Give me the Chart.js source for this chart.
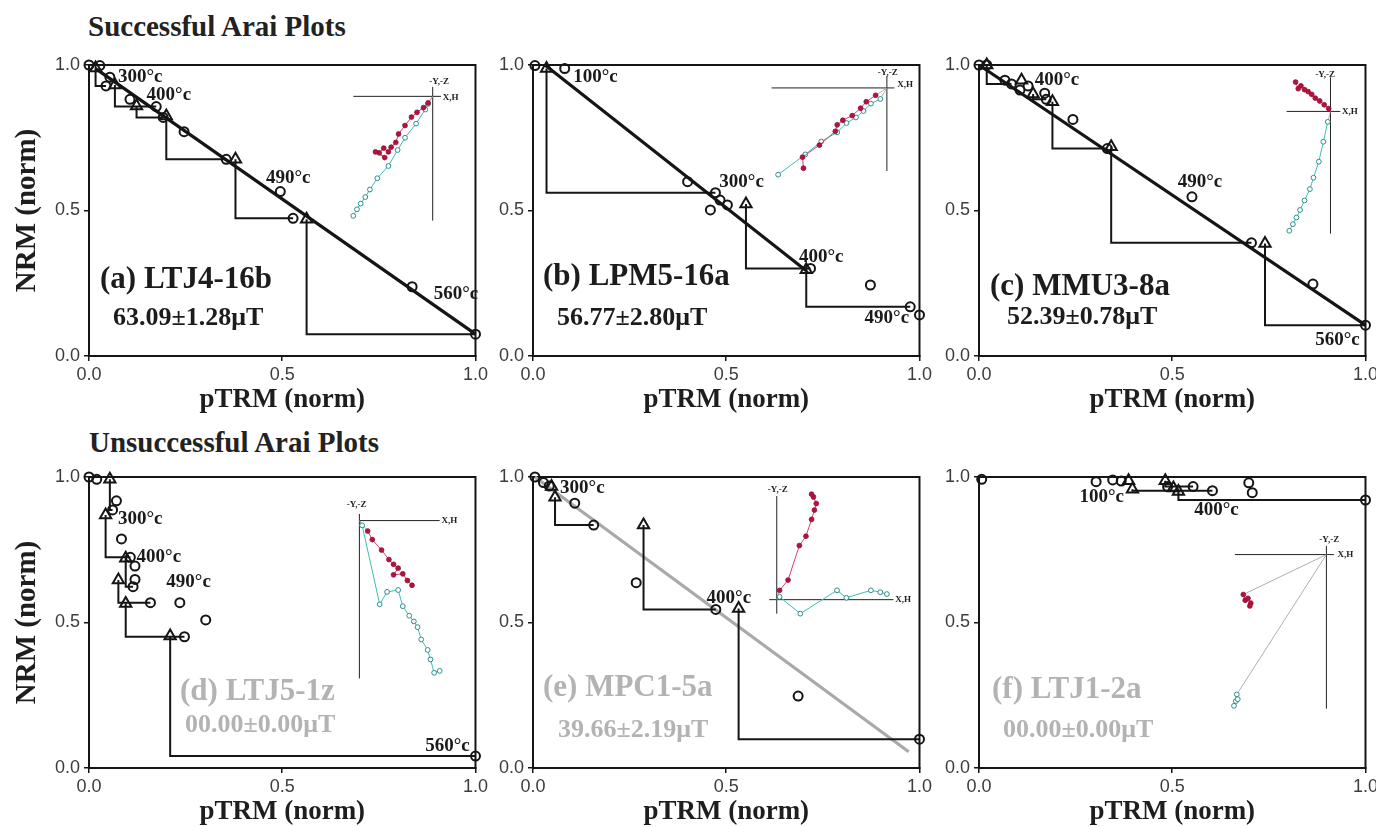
<!DOCTYPE html>
<html>
<head>
<meta charset="utf-8">
<script src="https://cdn.jsdelivr.net/npm/chart.js@4.4.1/dist/chart.umd.min.js"></script>
<style>
  html, body { margin: 0; background: #fff; width: 1376px; height: 827px; overflow: hidden; position: relative; }
  canvas { position: absolute; }
  .head { position: absolute; font: bold 29px "Liberation Serif", "Times New Roman", serif; line-height: 29px; color: #222; white-space: nowrap; }
</style>
</head>
<body>
<div class="head" style="left:88px; top:12px">Successful Arai Plots</div>
<div class="head" style="left:89px; top:428px">Unsuccessful Arai Plots</div>
<script>
// shared axis ticks (normalised units)
const tickVals = [0, 0.5, 1.0];

// (a) LTJ4-16b : NRM steps (circles) and pTRM checks (triangles)
const ptrmA = [0.0, 0.028, 0.044, 0.054, 0.106, 0.174, 0.192, 0.246, 0.355, 0.495, 0.528, 0.836, 1.0];
const nrmA = [1.0, 0.998, 0.928, 0.958, 0.882, 0.857, 0.820, 0.771, 0.676, 0.565, 0.473, 0.238, 0.075];
const chkPtrmA = [0.017, 0.067, 0.123, 0.200, 0.379, 0.563];
const chkNrmA = [0.990, 0.931, 0.859, 0.825, 0.676, 0.470];
const chkFromA = [2, 5, 6, 8, 10, 12];
const fitXA = [0.02, 1.0];
const fitYA = [0.985, 0.075];
const tempTextA = ["300°c", "400°c", "490°c", "560°c"];
const tempXA = [0.075, 0.149, 0.458, 0.892];
const tempYA = [0.958, 0.897, 0.611, 0.213];

// (b) LPM5-16a
const ptrmB = [0.005, 0.082, 0.400, 0.459, 0.472, 0.484, 0.503, 0.718, 0.873, 0.976, 1.0];
const nrmB = [0.998, 0.988, 0.599, 0.502, 0.561, 0.536, 0.519, 0.301, 0.244, 0.169, 0.141];
const chkPtrmB = [0.035, 0.551, 0.707];
const chkNrmB = [0.988, 0.522, 0.296];
const chkFromB = [4, 7, 9];
const fitXB = [0.031, 0.707];
const fitYB = [1.0, 0.293];
const tempTextB = ["100°c", "300°c", "400°c", "490°c"];
const tempXB = [0.104, 0.482, 0.688, 0.858];
const tempYB = [0.960, 0.599, 0.339, 0.130];

// (c) MMU3-8a
const ptrmC = [0.0, 0.02, 0.067, 0.084, 0.106, 0.127, 0.170, 0.174, 0.243, 0.332, 0.551, 0.705, 0.864, 1.0];
const nrmC = [1.0, 1.0, 0.948, 0.935, 0.914, 0.928, 0.903, 0.882, 0.813, 0.713, 0.547, 0.389, 0.247, 0.106];
const chkPtrmC = [0.020, 0.110, 0.140, 0.190, 0.342, 0.740];
const chkNrmC = [1.0, 0.948, 0.900, 0.874, 0.719, 0.387];
const chkFromC = [3, -1, 7, 9, 11, 13];
const fitXC = [0.0, 1.0];
const fitYC = [1.0, 0.106];
const tempTextC = ["400°c", "490°c", "560°c"];
const tempXC = [0.144, 0.514, 0.870];
const tempYC = [0.948, 0.596, 0.055];

// (d) LTJ5-1z
const ptrmD = [0.0, 0.02, 0.061, 0.071, 0.084, 0.107, 0.114, 0.119, 0.119, 0.159, 0.235, 0.247, 0.302, 1.0];
const nrmD = [1.0, 0.992, 0.887, 0.918, 0.787, 0.724, 0.623, 0.694, 0.648, 0.568, 0.568, 0.451, 0.509, 0.041];
const chkPtrmD = [0.054, 0.043, 0.095, 0.076, 0.095, 0.210];
const chkNrmD = [0.992, 0.869, 0.721, 0.646, 0.565, 0.454];
const chkFromD = [2, 5, 6, 9, 11, 13];
const tempTextD = ["300°c", "400°c", "490°c", "560°c"];
const tempXD = [0.075, 0.123, 0.200, 0.870];
const tempYD = [0.855, 0.726, 0.640, 0.076];

// (e) MPC1-5a
const ptrmE = [0.005, 0.027, 0.042, 0.108, 0.157, 0.267, 0.473, 0.686, 1.0];
const nrmE = [1.0, 0.981, 0.969, 0.910, 0.835, 0.637, 0.545, 0.247, 0.099];
const chkPtrmE = [0.048, 0.057, 0.286, 0.532];
const chkNrmE = [0.967, 0.930, 0.835, 0.548];
const chkFromE = [-1, 4, 6, 8];
const fitXE = [0.005, 0.972];
const fitYE = [1.0, 0.056];
const tempTextE = ["300°c", "400°c"];
const tempXE = [0.070, 0.449];
const tempYE = [0.961, 0.583];

// (f) LTJ1-2a
const ptrmF = [0.007, 0.303, 0.346, 0.368, 0.488, 0.554, 0.604, 0.698, 0.707, 1.0];
const nrmF = [0.992, 0.984, 0.990, 0.986, 0.967, 0.967, 0.953, 0.980, 0.946, 0.921];
const chkPtrmF = [0.387, 0.397, 0.482, 0.503, 0.516];
const chkNrmF = [0.987, 0.958, 0.987, 0.962, 0.950];
const chkFromF = [-1, 6, 5, -1, 9];
const tempTextF = ["100°c", "400°c"];
const tempXF = [0.260, 0.557];
const tempYF = [0.930, 0.887];

// Zijderveld insets: horizontal projection (red) and vertical projection (cyan)
const zRedA = [[-5, -7], [-10, -12], [-17, -17], [-23, -22], [-30, -31], [-37, -40], [-40, -49], [-45, -54], [-48, -59], [-53, -55], [-58, -60], [-52, -65], [-62, -59]];
const zCyanA = [[-5, -8], [-8, -14], [-18, -29], [-30, -44], [-38, -57], [-48, -74], [-60, -87], [-68, -99], [-73, -107], [-78, -114], [-82, -120], [-86, -127]];
const zRedB = [[-12, -8], [-22, -15], [-28, -22], [-37, -30], [-47, -35], [-53, -40], [-55, -47], [-72, -62], [-90, -75], [-89, -87]];
const zCyanB = [[-7, -12], [-17, -17], [-25, -25], [-33, -32], [-43, -38], [-53, -48], [-70, -58], [-87, -72], [-116, -94]];
const zRedC = [[-2, 3], [-7, 7], [-12, 11], [-17, 14], [-21, 18], [-25, 21], [-29, 23], [-33, 27], [-36, 24], [-39, 31]];
const zCyanC = [[-3, -11], [-8, -32], [-13, -53], [-19, -70], [-23, -82], [-29, -94], [-34, -104], [-38, -112], [-42, -119], [-46, -126]];
const zRedD = [[9, -11], [14, -20], [24, -31], [32, -41], [37, -46], [42, -50], [37, -57], [47, -56], [52, -63], [57, -68]];
const zCyanD = [[3, -5], [22, -88], [30, -75], [42, -73], [47, -90], [54, -100], [59, -106], [63, -112], [67, -125], [74, -136], [77, -146], [81, -160], [87, -158]];
const zRedE = [[3, 10], [12, 21], [24, 58], [31, 68], [37, 86], [40, 96], [42, 103], [39, 110], [37, 113]];
const zCyanE = [[3, 3], [25, -15], [64, 10], [74, 2], [100, 10], [110, 8], [117, 6]];
const zRedF = [[-89, -42], [-87, -48], [-84, -46], [-81, -51], [-82, -54]];
const zCyanF = [[-96, -147], [-97, -154], [-99, -159], [-95, -152]];

const ink = "#151515";
const serif = '"Liberation Serif", "Times New Roman", serif';

// full box around the plotting area
const framePlugin = {
  id: "frame",
  beforeDatasetsDraw(chart) {
    const { ctx, chartArea: a } = chart;
    ctx.save();
    ctx.strokeStyle = ink;
    ctx.lineWidth = 2;
    ctx.strokeRect(a.left, a.top, a.right - a.left, a.bottom - a.top);
    ctx.restore();
  }
};

// temperature steps, sample name and intensity
const textPlugin = {
  id: "araiText",
  afterDatasetsDraw(chart, args, opts) {
    const { ctx, chartArea: a, scales: { x, y } } = chart;
    ctx.save();
    ctx.textAlign = "left";
    ctx.textBaseline = "middle";
    ctx.fillStyle = "#1a1a1a";
    ctx.font = "bold 19px " + serif;
    opts.temps.forEach((t, i) => {
      ctx.fillText(t, x.getPixelForValue(opts.tempX[i]), y.getPixelForValue(opts.tempY[i]));
    });
    ctx.fillStyle = opts.nameColor;
    ctx.font = "bold 31px " + serif;
    ctx.fillText(opts.name, a.left + opts.nameAt[0], a.top + opts.nameAt[1]);
    ctx.font = "bold 26px " + serif;
    ctx.fillText(opts.value, a.left + opts.valueAt[0], a.top + opts.valueAt[1]);
    ctx.restore();
  }
};

function araiPanel(p) {
  const yw = p.yTitle ? 89 : 48;
  const padTop = 15, padRight = 14, xh = 64;
  const [l, t, r, b] = p.area;
  const cv = document.createElement("canvas");
  cv.width = yw + (r - l) + padRight;
  cv.height = padTop + (b - t) + xh;
  cv.style.left = (l - yw) + "px";
  cv.style.top = (t - padTop) + "px";
  document.body.appendChild(cv);

  const datasets = [];
  datasets.push({
    data: p.ptrm.map((v, i) => ({ x: v, y: p.nrm[i] })),
    pointStyle: "circle", pointRadius: 4.5, pointBorderWidth: 2,
    pointBorderColor: ink, pointBackgroundColor: "rgba(0,0,0,0)",
    clip: false, order: 0
  });
  datasets.push({
    data: p.chkPtrm.map((v, i) => ({ x: v, y: p.chkNrm[i] })),
    pointStyle: "triangle", pointRadius: 6.5, pointBorderWidth: 2,
    pointBorderColor: ink, pointBackgroundColor: "rgba(0,0,0,0)",
    clip: false, order: 1
  });
  // pTRM check paths: across from the NRM step, then up to the check
  p.chkFrom.forEach((k, i) => {
    if (k < 0) return;
    datasets.push({
      data: [
        { x: p.ptrm[k], y: p.nrm[k] },
        { x: p.chkPtrm[i], y: p.nrm[k] },
        { x: p.chkPtrm[i], y: p.chkNrm[i] }
      ],
      showLine: true, borderColor: ink, borderWidth: 2, pointRadius: 0,
      clip: false, order: 2
    });
  });
  if (p.fitX) {
    datasets.push({
      data: p.fitX.map((v, i) => ({ x: v, y: p.fitY[i] })),
      showLine: true, borderColor: p.fitColor, borderWidth: 3.2, pointRadius: 0,
      clip: false, order: 3
    });
  }

  const tickFont = { family: '"Liberation Sans", Arial, sans-serif', size: 18 };
  const fixTicks = s => { s.ticks = tickVals.map(v => ({ value: v })); };
  new Chart(cv, {
    type: "scatter",
    data: { datasets },
    options: {
      responsive: false,
      animation: false,
      events: [],
      layout: { padding: { top: padTop, right: padRight, left: 0, bottom: 0 } },
      elements: { line: { tension: 0 } },
      plugins: {
        legend: { display: false },
        tooltip: { enabled: false },
        araiText: {
          temps: p.temps, tempX: p.tempX, tempY: p.tempY,
          name: p.name, value: p.value, nameAt: p.nameAt, valueAt: p.valueAt,
          nameColor: p.faded ? "#b3b3b3" : "#1c1c1c"
        }
      },
      scales: {
        x: {
          type: "linear", min: 0, max: 1,
          afterBuildTicks: fixTicks,
          afterFit: s => { s.height = xh; },
          ticks: { font: tickFont, color: "#3c3c3c", padding: 3, maxRotation: 0, autoSkip: false, callback: v => v.toFixed(1) },
          grid: { drawOnChartArea: false, drawTicks: true, tickLength: 5, color: ink, lineWidth: 1.5 },
          border: { display: true, color: ink, width: 2 },
          title: { display: true, text: "pTRM (norm)", color: "#1e1e1e", font: { family: serif, weight: "bold", size: 27 }, padding: { top: 0, bottom: 4 } }
        },
        y: {
          type: "linear", min: 0, max: 1,
          afterBuildTicks: fixTicks,
          afterFit: s => { s.width = yw; },
          ticks: { font: tickFont, color: "#3c3c3c", padding: 4, autoSkip: false, callback: v => v.toFixed(1) },
          grid: { drawOnChartArea: false, drawTicks: true, tickLength: 5, color: ink, lineWidth: 1.5 },
          border: { display: true, color: ink, width: 2 },
          title: { display: !!p.yTitle, text: "NRM (norm)", color: "#1e1e1e", font: { family: serif, weight: "bold", size: 29 }, padding: { top: 10, bottom: 0 } }
        }
      }
    },
    plugins: [framePlugin, textPlugin]
  });
}

// Zijderveld crosshair, its labels and the thin lines back to the origin
const crossPlugin = {
  id: "cross",
  beforeDatasetsDraw(chart, args, opts) {
    const { ctx, scales: { x, y } } = chart;
    const x0 = x.getPixelForValue(0), y0 = y.getPixelForValue(0);
    ctx.save();
    ctx.strokeStyle = "#222";
    ctx.lineWidth = 1;
    ctx.beginPath();
    ctx.moveTo(x.getPixelForValue(opts.hor[0]), y0);
    ctx.lineTo(x.getPixelForValue(opts.hor[1]), y0);
    ctx.moveTo(x0, y.getPixelForValue(opts.ver[0]));
    ctx.lineTo(x0, y.getPixelForValue(opts.ver[1]));
    ctx.stroke();
    ctx.strokeStyle = "#9a9a9a";
    ctx.lineWidth = 0.8;
    chart.data.datasets.forEach(ds => {
      const p = ds.data[0];
      ctx.beginPath();
      ctx.moveTo(x0, y0);
      ctx.lineTo(x.getPixelForValue(p.x), y.getPixelForValue(p.y));
      ctx.stroke();
    });
    ctx.fillStyle = "#222";
    ctx.font = "bold 9px " + serif;
    ctx.textBaseline = "middle";
    ctx.textAlign = "center";
    ctx.fillText("-Y,-Z", x.getPixelForValue(opts.yzAt[0]), y.getPixelForValue(opts.yzAt[1]));
    ctx.textAlign = "left";
    ctx.fillText("X,H", x.getPixelForValue(opts.xhAt[0]), y.getPixelForValue(opts.xhAt[1]));
    ctx.restore();
  }
};

function zijdInset(z) {
  const [L, T, W, H] = z.box;
  const [ox, oy] = z.origin;
  const cv = document.createElement("canvas");
  cv.width = W;
  cv.height = H;
  cv.style.left = L + "px";
  cv.style.top = T + "px";
  document.body.appendChild(cv);
  new Chart(cv, {
    type: "scatter",
    data: {
      datasets: [
        {
          data: z.red.map(([a, b]) => ({ x: a, y: b })),
          showLine: true, borderColor: "#d6416c", borderWidth: 1,
          pointRadius: 2.4, pointBorderWidth: 0.8,
          pointBackgroundColor: "#b5123f", pointBorderColor: "#8e0c30"
        },
        {
          data: z.cyan.map(([a, b]) => ({ x: a, y: b })),
          showLine: true, borderColor: "#3dbdb3", borderWidth: 1,
          pointRadius: 2.4, pointBorderWidth: 1,
          pointBackgroundColor: "#ffffff", pointBorderColor: "#2a8f8a"
        }
      ]
    },
    options: {
      responsive: false,
      animation: false,
      events: [],
      layout: { padding: 0 },
      elements: { line: { tension: 0 } },
      plugins: {
        legend: { display: false },
        tooltip: { enabled: false },
        cross: { hor: z.hor, ver: z.ver, yzAt: z.yzAt, xhAt: z.xhAt }
      },
      scales: {
        x: { display: false, min: L - ox, max: L + W - ox },
        y: { display: false, min: oy - (T + H), max: oy - T }
      }
    },
    plugins: [crossPlugin]
  });
}

araiPanel({ area: [89, 65, 477, 356], yTitle: true, ptrm: ptrmA, nrm: nrmA, chkPtrm: chkPtrmA, chkNrm: chkNrmA, chkFrom: chkFromA,
  fitX: fitXA, fitY: fitYA, fitColor: ink, temps: tempTextA, tempX: tempXA, tempY: tempYA,
  name: "(a) LTJ4-16b", value: "63.09±1.28μT", nameAt: [11, 215], valueAt: [24, 253] });
araiPanel({ area: [533, 65, 921, 356], ptrm: ptrmB, nrm: nrmB, chkPtrm: chkPtrmB, chkNrm: chkNrmB, chkFrom: chkFromB,
  fitX: fitXB, fitY: fitYB, fitColor: ink, temps: tempTextB, tempX: tempXB, tempY: tempYB,
  name: "(b) LPM5-16a", value: "56.77±2.80μT", nameAt: [10, 212], valueAt: [24, 253] });
araiPanel({ area: [979, 65, 1367, 356], ptrm: ptrmC, nrm: nrmC, chkPtrm: chkPtrmC, chkNrm: chkNrmC, chkFrom: chkFromC,
  fitX: fitXC, fitY: fitYC, fitColor: ink, temps: tempTextC, tempX: tempXC, tempY: tempYC,
  name: "(c) MMU3-8a", value: "52.39±0.78μT", nameAt: [11, 222], valueAt: [28, 252] });
araiPanel({ area: [89, 477, 477, 768], yTitle: true, faded: true, ptrm: ptrmD, nrm: nrmD, chkPtrm: chkPtrmD, chkNrm: chkNrmD, chkFrom: chkFromD,
  temps: tempTextD, tempX: tempXD, tempY: tempYD,
  name: "(d) LTJ5-1z", value: "00.00±0.00μT", nameAt: [91, 215], valueAt: [96, 248] });
araiPanel({ area: [533, 477, 921, 768], faded: true, ptrm: ptrmE, nrm: nrmE, chkPtrm: chkPtrmE, chkNrm: chkNrmE, chkFrom: chkFromE,
  fitX: fitXE, fitY: fitYE, fitColor: "#a9a9a9", temps: tempTextE, tempX: tempXE, tempY: tempYE,
  name: "(e) MPC1-5a", value: "39.66±2.19μT", nameAt: [10, 211], valueAt: [25, 253] });
araiPanel({ area: [979, 477, 1367, 768], faded: true, ptrm: ptrmF, nrm: nrmF, chkPtrm: chkPtrmF, chkNrm: chkNrmF, chkFrom: chkFromF,
  temps: tempTextF, tempX: tempXF, tempY: tempYF,
  name: "(f) LTJ1-2a", value: "00.00±0.00μT", nameAt: [13, 213], valueAt: [24, 253] });

zijdInset({ box: [340, 65, 130, 170], origin: [435, 93], red: zRedA, cyan: zCyanA, hor: [-86, 9], ver: [10, -132], yzAt: [7, 16], xhAt: [11, -1] });
zijdInset({ box: [760, 58, 160, 130], origin: [890, 85], red: zRedB, cyan: zCyanB, hor: [-123, 8], ver: [13, -90], yzAt: [1, 16], xhAt: [11, 3] });
zijdInset({ box: [1270, 60, 95, 190], origin: [1332, 109], red: zRedC, cyan: zCyanC, hor: [-49, 11], ver: [36, -129], yzAt: [-6, 39], xhAt: [13, 0] });
zijdInset({ box: [335, 488, 130, 205], origin: [356, 517], red: zRedD, cyan: zCyanD, hor: [0, 87], ver: [7, -166], yzAt: [-3, 17], xhAt: [89, 0] });
zijdInset({ box: [752, 478, 170, 150], origin: [773, 603], red: zRedE, cyan: zCyanE, hor: [-8, 124], ver: [111, -15], yzAt: [1, 118], xhAt: [126, 0] });
zijdInset({ box: [1215, 522, 150, 205], origin: [1329, 551], red: zRedF, cyan: zCyanF, hor: [-98, 8], ver: [9, -162], yzAt: [3, 16], xhAt: [12, 0] });
</script>
</body>
</html>
